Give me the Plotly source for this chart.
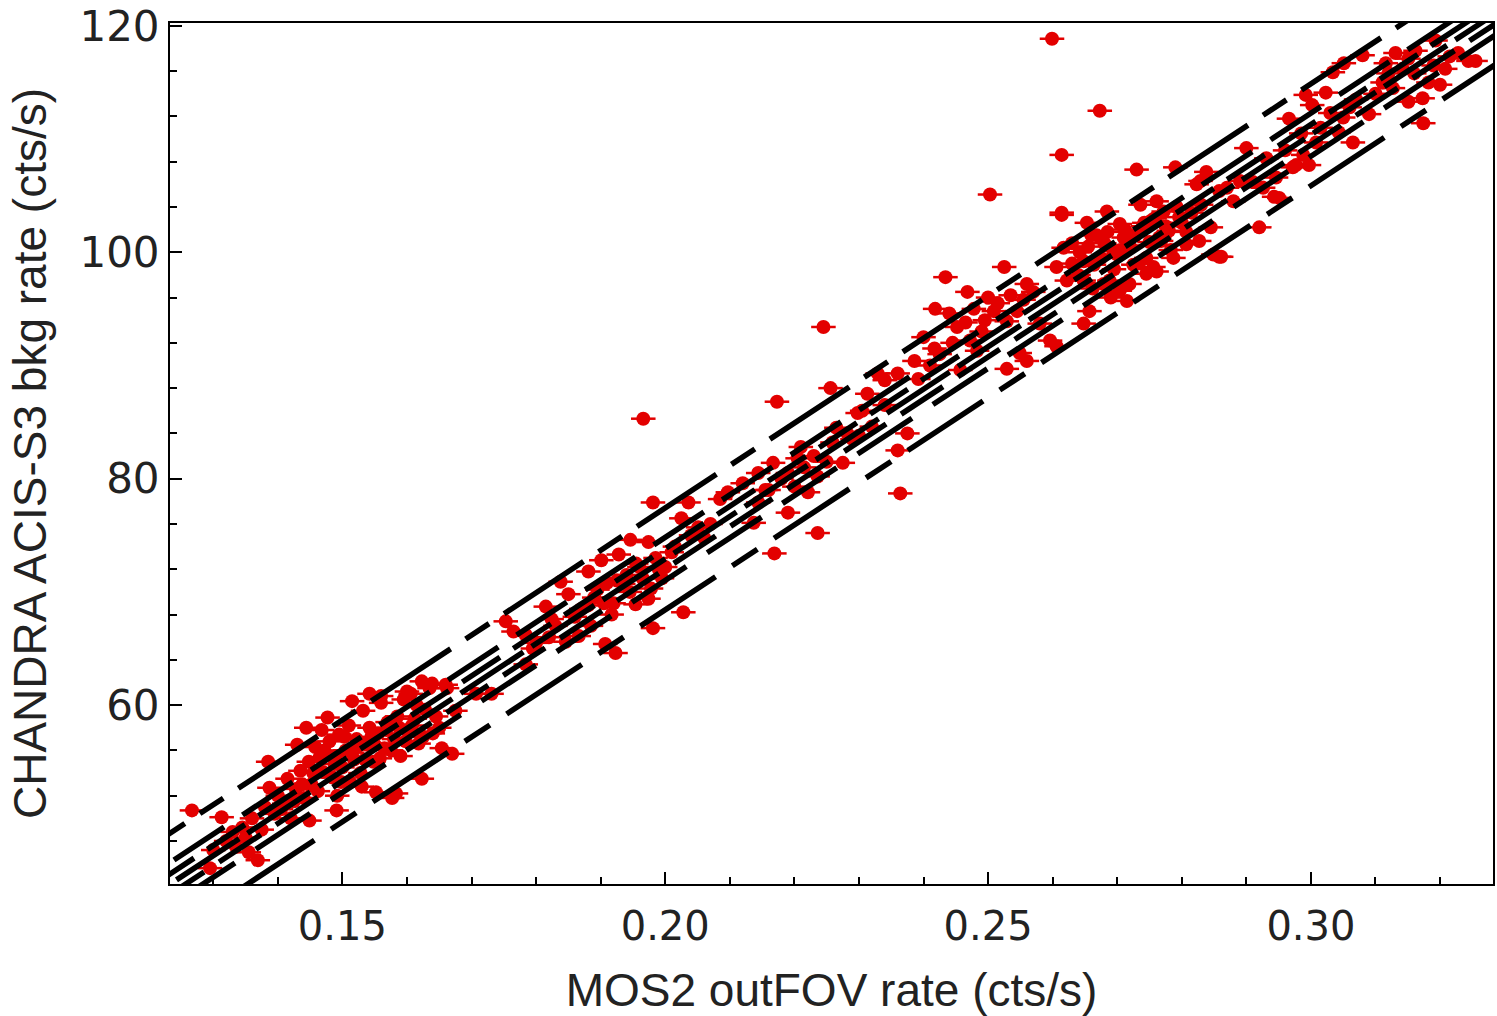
import plotly.graph_objects as go

# ---- data ----
mos2_rate = [
    # cluster around 0.13-0.17
    0.1267, 0.1313, 0.1295, 0.1369, 0.1300, 0.1320, 0.1335, 0.1345, 0.1350, 0.1360,
    0.1375, 0.1380, 0.1387, 0.1395, 0.1400, 0.1410, 0.1415, 0.1420, 0.1428, 0.1435,
    0.1440, 0.1444, 0.1448, 0.1452, 0.1458, 0.1462, 0.1465, 0.1470, 0.1477, 0.1480,
    0.1485, 0.1490, 0.1495, 0.1500, 0.1505, 0.1510, 0.1512, 0.1518, 0.1522, 0.1528,
    0.1532, 0.1538, 0.1542, 0.1548, 0.1552, 0.1555, 0.1560, 0.1565, 0.1570, 0.1577,
    0.1580, 0.1585, 0.1590, 0.1595, 0.1600, 0.1606, 0.1612, 0.1618, 0.1623, 0.1628,
    0.1635, 0.1640, 0.1654, 0.1660, 0.1670, 0.1675, 0.1515, 0.1542, 0.1560, 0.1600,
    0.1623, 0.1639, 0.1583, 0.1491, 0.1449, 0.1662, 0.1707, 0.1731, 0.1385, 0.1430,
    0.1455, 0.1472, 0.1488, 0.1498, 0.1503, 0.1515, 0.1525, 0.1535, 0.1545, 0.1550,
    0.1558, 0.1568, 0.1575, 0.1588, 0.1598, 0.1608, 0.1615, 0.1625, 0.1645, 0.1650,
    0.1405, 0.1425, 0.1438, 0.1330, 0.1355, 0.1492, 0.1530, 0.1468,
    # cluster around 0.175-0.21
    0.1753, 0.1765, 0.1784, 0.1784, 0.1815, 0.1824, 0.1838, 0.1846, 0.1866, 0.1881,
    0.1901, 0.1928, 0.1946, 0.1935, 0.1978, 0.1974, 0.1954, 0.1917, 0.1907, 0.1923,
    0.1981, 0.1974, 0.2036, 0.1981, 0.2051, 0.2010, 0.2060, 0.1990, 0.1960, 0.1890,
    0.1870, 0.1850, 0.1800, 0.1830, 0.1995, 0.2025, 0.2070, 0.2085, 0.1940, 0.1910,
    0.1920, 0.2028, 0.1966,
    0.1880, 0.1895, 0.1905, 0.1925, 0.1945, 0.1955, 0.1965, 0.1985, 0.2000, 0.2015,
    0.2040, 0.1860, 0.1820, 0.1795, 0.1885,
    # cluster around 0.21-0.235
    0.2097, 0.2120, 0.2144, 0.2167, 0.2190, 0.2205, 0.2144, 0.2190, 0.2221, 0.2236,
    0.2259, 0.2282, 0.2298, 0.2313, 0.2329, 0.2275, 0.2290, 0.2305, 0.2256, 0.2173,
    0.2137, 0.2236, 0.2169, 0.2245, 0.2155, 0.2210, 0.2320, 0.2340, 0.2364,
    0.2160, 0.2180, 0.2200, 0.2215, 0.2230, 0.2250, 0.2265, 0.2300,
    # cluster around 0.235-0.26
    0.2434, 0.2468, 0.2525, 0.2418, 0.2440, 0.2452, 0.2417, 0.2386, 0.2360, 0.2340,
    0.2509, 0.2529, 0.2545, 0.2560, 0.2580, 0.2596, 0.2606, 0.2549, 0.2529, 0.2560,
    0.2472, 0.2483, 0.2457, 0.2375, 0.2360, 0.2400, 0.2500, 0.2490, 0.2503,
    0.2410, 0.2425, 0.2445, 0.2465, 0.2478, 0.2495, 0.2515, 0.2535, 0.2555, 0.2570,
    0.2392,
    # cluster around 0.26-0.29
    0.2648, 0.2688, 0.2719, 0.2756, 0.2617, 0.2614, 0.2730, 0.2614, 0.2653, 0.2684,
    0.2704, 0.2761, 0.2772, 0.2796, 0.2807, 0.2823, 0.2838, 0.2858, 0.2642, 0.2664,
    0.2694, 0.2725, 0.2745, 0.2761, 0.2787, 0.2807, 0.2827, 0.2849, 0.2858, 0.2606,
    0.2622, 0.2648, 0.2679, 0.2704, 0.2715, 0.2657, 0.2648, 0.2745, 0.2765, 0.2736,
    0.2710, 0.2680, 0.2700, 0.2740, 0.2780, 0.2660, 0.2630, 0.2720, 0.2753, 0.2673,
    0.2599, 0.2614, 0.2861,
    0.2630, 0.2640, 0.2655, 0.2668, 0.2675, 0.2685, 0.2695, 0.2705, 0.2712, 0.2718,
    0.2728, 0.2733, 0.2742, 0.2750, 0.2758, 0.2768, 0.2775, 0.2783, 0.2792, 0.2800,
    0.2815, 0.2830, 0.2845, 0.2690, 0.2662,
    # cluster around 0.29-0.325
    0.2920, 0.2951, 0.2972, 0.2997, 0.2926, 0.2910, 0.3051, 0.3034, 0.3131, 0.3151,
    0.3142, 0.3182, 0.3228, 0.3244, 0.3208, 0.3116, 0.3111, 0.3127, 0.3151, 0.3173,
    0.2992, 0.2966, 0.3002, 0.3023, 0.3043, 0.3065, 0.3008, 0.2988, 0.2977, 0.2931,
    0.2946, 0.2790, 0.2829, 0.2870, 0.2890, 0.2943, 0.3080, 0.3162, 0.3193, 0.3255,
    0.3174, 0.3090, 0.3200, 0.3060, 0.2900, 0.2880,
    0.3015, 0.3030, 0.3070, 0.3100, 0.3120, 0.3160, 0.3190, 0.3215, 0.3050, 0.2960,
    0.2985,
]
acis_rate = [
    # cluster around 0.13-0.17
    50.7, 50.1, 45.6, 46.3, 47.2, 48.0, 47.5, 49.2, 48.3, 50.0,
    49.0, 51.0, 52.7, 50.4, 52.0, 51.3, 53.5, 50.0, 52.6, 54.2,
    51.8, 58.0, 55.0, 53.0, 56.3, 52.4, 55.4, 54.1, 58.9, 56.8,
    53.6, 55.5, 57.4, 54.5, 56.0, 58.2, 53.2, 55.2, 57.0, 54.0,
    59.5, 56.5, 58.0, 55.0, 52.3, 57.5, 60.2, 56.2, 58.5, 51.8,
    57.0, 59.0, 55.5, 60.5, 57.8, 61.0, 58.8, 56.6, 53.5, 59.6,
    61.5, 57.5, 56.2, 61.8, 55.7, 59.5, 60.35, 61.0, 60.8, 61.2,
    62.1, 61.9, 52.2, 50.7, 49.8, 61.5, 61.0, 61.0, 55.0, 56.5,
    54.0, 56.0, 54.8, 53.2, 57.2, 55.8, 56.4, 55.2, 57.2, 56.5,
    55.3, 57.8, 56.0, 58.0, 56.8, 58.2, 60.0, 57.2, 59.0, 58.0,
    50.8, 51.5, 53.0, 48.8, 47.0, 52.0, 52.8, 57.8,
    # cluster around 0.175-0.21
    67.4, 66.5, 66.2, 63.6, 68.7, 67.6, 70.9, 65.6, 66.1, 71.8,
    72.8, 73.3, 74.6, 70.7, 70.3, 69.4, 68.9, 68.0, 65.4, 64.6,
    66.8, 74.4, 77.9, 77.9, 75.7, 73.5, 74.8, 72.0, 72.2, 69.5,
    68.5, 69.8, 65.5, 67.0, 71.2, 76.5, 76.0, 78.2, 71.5, 70.8,
    69.0, 68.2, 85.3,
    68.8, 70.2, 69.0, 71.0, 70.0, 72.5, 71.2, 73.0, 72.2, 74.0,
    75.0, 67.8, 66.0, 65.0, 67.0,
    # cluster around 0.21-0.235
    78.8, 79.6, 80.5, 81.4, 80.5, 81.8, 77.9, 77.0, 78.8, 80.2,
    83.2, 84.0, 85.8, 87.5, 89.3, 81.4, 83.5, 86.0, 88.0, 86.8,
    76.1, 75.2, 73.4, 93.4, 79.0, 82.8, 84.6, 86.5, 78.7,
    79.0, 80.0, 79.3, 81.0, 82.0, 81.5, 84.5, 83.8,
    # cluster around 0.235-0.26
    97.8, 96.5, 98.7, 95.0, 94.6, 93.4, 91.5, 90.4, 89.3, 88.7,
    94.8, 93.9, 94.8, 97.2, 93.7, 92.2, 91.7, 91.1, 89.7, 90.4,
    92.2, 91.3, 89.6, 84.0, 82.5, 92.5, 96.0, 93.0, 105.1,
    90.0, 91.0, 92.0, 93.8, 95.0, 94.0, 95.5, 96.2, 95.8, 96.5,
    88.8,
    # cluster around 0.26-0.29
    99.2, 97.5, 97.2, 98.7, 100.4, 108.6, 107.3, 103.5, 102.6, 103.6,
    102.5, 104.5, 103.6, 103.1, 101.8, 106.0, 107.1, 105.4, 100.0, 98.9,
    100.1, 98.9, 99.5, 98.3, 99.5, 100.7, 101.0, 99.8, 99.6, 98.7,
    97.5, 97.5, 97.2, 96.6, 95.7, 94.8, 93.7, 98.1, 101.3, 104.2,
    101.3, 100.8, 99.8, 102.3, 101.9, 101.5, 99.0, 100.5, 102.8, 112.5,
    118.86, 103.3, 99.6,
    100.8, 98.0, 100.5, 101.5, 99.5, 101.8, 98.5, 100.2, 102.0, 100.6,
    101.5, 99.0, 102.6, 100.9, 103.0, 101.0, 102.3, 100.2, 104.0, 102.6,
    103.5, 104.2, 102.2, 96.0, 96.8,
    # cluster around 0.29-0.325
    102.2, 104.8, 107.5, 107.7, 105.7, 106.2, 116.7, 115.9, 117.6, 117.1,
    116.2, 115.0, 117.6, 116.9, 116.2, 116.7, 115.0, 114.5, 113.3, 113.6,
    113.9, 111.8, 113.0, 114.1, 110.6, 109.7, 109.7, 108.6, 107.7, 108.3,
    106.6, 107.5, 106.3, 105.7, 106.3, 104.9, 117.4, 117.8, 118.7, 116.9,
    111.4, 112.2, 114.8, 112.8, 109.2, 104.5,
    111.0, 112.3, 113.5, 114.0, 115.8, 115.8, 116.5, 117.3, 111.9, 109.0,
    110.5,
]
mos2_err = 0.0019
acis_err = 0.5

# linear relation and scatter bands (drawn as dashed lines)
fit_slope = 374.6
fit_intercept = -2.0
band_offsets = [0.0, 0.9, -0.9, 1.9, -1.9, 4.5, -4.5]
band_dashes = ["75px,10px", "45px,16px", "50px,18px", "60px,22px", "65px,25px",
               "95px,18px,28px,18px", "90px,20px,30px,20px"]

x_range = [0.1233, 0.3282]
y_range = [44.2, 120.25]

fig = go.Figure()

fig.add_trace(go.Scatter(
    x=mos2_rate, y=acis_rate, mode="markers",
    marker=dict(color="#e30000", size=14, symbol="circle", line=dict(width=0)),
    error_x=dict(type="constant", value=mos2_err, color="#e30000", thickness=2.5, width=0),
    error_y=dict(type="constant", value=acis_err, color="#e30000", thickness=2.5, width=0),
    showlegend=False, hoverinfo="x+y",
))

for off, dash in zip(band_offsets, band_dashes):
    xs = [x_range[0] - 0.01, x_range[1] + 0.01]
    ys = [fit_slope * v + fit_intercept + off for v in xs]
    fig.add_trace(go.Scatter(
        x=xs, y=ys, mode="lines",
        line=dict(color="black", width=5.5, dash=dash),
        showlegend=False, hoverinfo="skip",
    ))

fig.update_layout(
    width=1497, height=1016,
    margin=dict(l=170, r=2, t=18, b=132),
    paper_bgcolor="white", plot_bgcolor="white",
)
fig.update_xaxes(
    range=x_range, tickvals=[0.15, 0.20, 0.25, 0.30], ticktext=["0.15", "0.20", "0.25", "0.30"],
    ticks="inside", ticklen=12, tickwidth=2, tickcolor="black",
    minor=dict(dtick=0.01, tick0=0.0, ticks="inside", ticklen=7, tickwidth=1.5, tickcolor="black"),
    showline=True, linecolor="black", linewidth=2, mirror=True, showgrid=False, zeroline=False,
    tickfont=dict(family="DejaVu Sans, Verdana, sans-serif", size=40, color="#222"),
    ticklabeloverflow="allow", ticklabelstandoff=6,
    title=dict(text="MOS2 outFOV rate (cts/s)", standoff=30,
               font=dict(family="Liberation Sans, Arial, sans-serif", size=46, color="#222")),
)
fig.update_yaxes(
    range=y_range, tickvals=[60, 80, 100, 120],
    ticks="inside", ticklen=12, tickwidth=2, tickcolor="black",
    minor=dict(dtick=4, tick0=0, ticks="inside", ticklen=7, tickwidth=1.5, tickcolor="black"),
    showline=True, linecolor="black", linewidth=2, mirror=True, showgrid=False, zeroline=False,
    tickfont=dict(family="DejaVu Sans, Verdana, sans-serif", size=42, color="#222"),
    ticklabeloverflow="allow",
    title=dict(text="CHANDRA ACIS-S3 bkg rate (cts/s)", standoff=18,
               font=dict(family="Liberation Sans, Arial, sans-serif", size=46, color="#222")),
)

fig.write_html("out.html")
